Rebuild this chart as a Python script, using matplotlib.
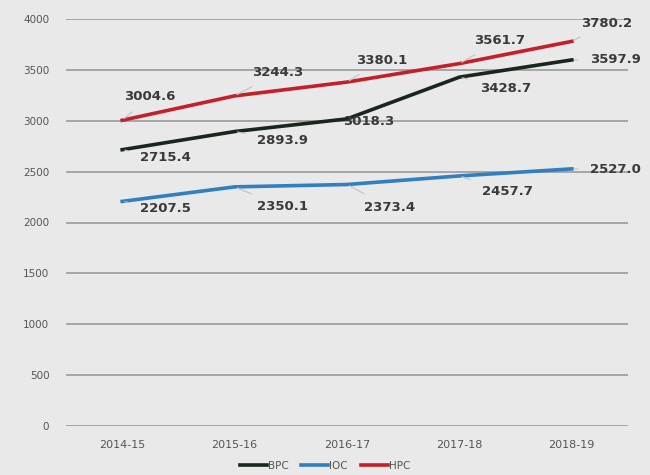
import matplotlib
matplotlib.use("Agg")
import matplotlib.pyplot as plt

years = ["2014-15", "2015-16", "2016-17", "2017-18", "2018-19"]
bpc = [2715.4, 2893.9, 3018.3, 3428.7, 3597.9]
ioc = [2207.5, 2350.1, 2373.4, 2457.7, 2527.0]
hpc = [3004.6, 3244.3, 3380.1, 3561.7, 3780.2]
yticks = [0, 500, 1000, 1500, 2000, 2500, 3000, 3500, 4000]

bg = "#e9e9e9"
fig = plt.figure(figsize=(6.5, 4.75), dpi=100, facecolor=bg)
ax = fig.add_axes([66/650, 1-426/475, (628-66)/650, (426-19)/475], facecolor=bg)

x = list(range(len(years)))
colors = {"BPC": "#16271c", "IOC": "#2f7fc1", "HPC": "#c3202b"}
ax.plot(x, bpc, color=colors["BPC"], lw=2.6, label="BPC", zorder=3)
ax.plot(x, ioc, color=colors["IOC"], lw=2.6, label="IOC", zorder=3)
ax.plot(x, hpc, color=colors["HPC"], lw=2.6, label="HPC", zorder=3)

# label offsets in pixels (dx, dy)
offs = {
    "HPC": [(28, 24), (43, 23), (35, 22), (40, 23), (35, 18)],
    "BPC": [(43, -8), (48, -9), (22, -3), (46, -11), (44, 0)],
    "IOC": [(43, -7), (48, -20), (43, -23), (48, -16), (44, -1)],
}
series = {"BPC": bpc, "IOC": ioc, "HPC": hpc}
for name, vals in series.items():
    for i, v in enumerate(vals):
        dx, dy = offs[name][i]
        ax.annotate(f"{v:.1f}", xy=(i, v), xytext=(dx, dy),
                    textcoords="offset pixels", ha="center", va="center",
                    fontsize=9.5, fontweight="bold", color="#3a3a3a",
                    family="DejaVu Sans",
                    arrowprops=dict(arrowstyle="-", color="#c4c4c4", lw=0.9,
                                    shrinkA=7, shrinkB=2),
                    zorder=4)

ax.set_xlim(-0.5, len(years) - 0.5)
ax.set_ylim(0, 4000)
ax.set_yticks(yticks)
ax.set_yticklabels([str(t) for t in yticks], fontsize=7.5, color="#555555", family="DejaVu Sans")
ax.set_xticks(x)
ax.set_xticklabels(years, fontsize=8, color="#555555", family="DejaVu Sans")
ax.tick_params(length=0, pad=12)
ax.tick_params(axis="x", pad=10)
ax.grid(axis="y", color="#a6a6a6", lw=1.4)
ax.set_axisbelow(True)
for s in ax.spines.values():
    s.set_visible(False)

leg = fig.legend(loc="center", bbox_to_anchor=(0.5, 1-466/475), ncol=3, frameon=False,
                 handlelength=2.6, handletextpad=0.1, columnspacing=1.2,
                 prop={"family": "DejaVu Sans", "size": 7.5})
for t in leg.get_texts():
    t.set_color("#555555")

fig.savefig("out.png", dpi=100, facecolor=bg)
